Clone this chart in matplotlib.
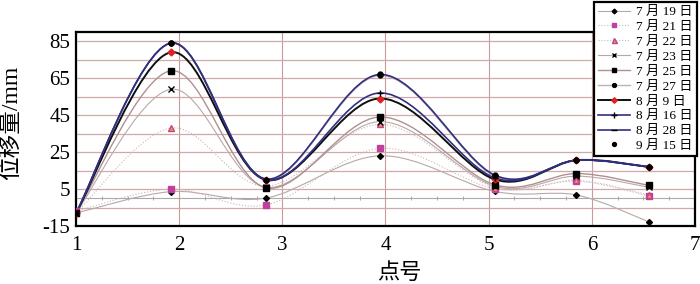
import numpy as np
import matplotlib
matplotlib.use('Agg')
import matplotlib.pyplot as plt
from matplotlib.path import Path
from matplotlib.patches import PathPatch
from matplotlib.lines import Line2D

plt.rcParams['font.family'] = ['Liberation Serif', 'Noto Sans CJK SC']
plt.rcParams['axes.unicode_minus'] = False

# 点号 (measured positions)
x = [1, 1.92, 2.84, 3.95, 5.06, 5.85, 6.55]

labels = ['7 月 19 日', '7 月 21 日', '7 月 22 日', '7 月 23 日', '7 月 25 日',
          '7 月 27 日', '8 月 9 日', '8 月 16 日', '8 月 28 日', '9 月 15 日']

d0719 = [-8, 3.6, 0.1, 23, 3.7, 1.8, -12.7]
d0721 = [-7, 5, -3.6, 27, 5.2, 9.3, 1.3]
d0722 = [-8, 38, 6.5, 40, 5.8, 9.8, 1.8]
d0723 = [-8, 59, 6, 41.5, 6.5, 12, 6]
d0725 = [-8, 69, 5.7, 44, 7.3, 13.4, 7]
d0727 = [-8, 84, 10, 66.5, 12, 20.6, 17]
d0809 = [-8, 79, 10, 54, 10.2, 20.6, 17]
d0816 = [-8, 84, 10, 57, 11, 20.6, 17]
d0828 = [-8, 84, 10.5, 67, 12.5, 20.6, 17]
d0915 = [-8, 84, 10, 67, 12.5, 20.6, 17]

series = [d0719, d0721, d0722, d0723, d0725, d0727, d0809, d0816, d0828, d0915]

# style: line colour, width, linestyle, marker, marker face, marker edge, size
styles = [
    ('#b8a8a8', 0.8, '-', 'D', 'black', 'black', 3),
    ('#c8b8b8', 0.8, ':', 's', '#c0409a', '#c0409a', 4),
    ('#c8b8b8', 0.8, ':', '^', '#f0a020', '#c0409a', 4.5),
    ('#b8a8a8', 0.8, '-', 'x', 'black', 'black', 4),
    ('#b09090', 1.0, '-', 's', 'black', 'black', 4),
    ('#c0b0b0', 1.0, '-', 'o', 'black', 'black', 3.5),
    ('#101010', 1.4, '-', 'D', '#e02020', '#e02020', 3.5),
    ('#303080', 1.2, '-', '+', 'black', 'black', 5),
    ('#303080', 1.2, '-', '_', 'black', 'black', 5),
    ('none', 0, '-', 'o', 'black', 'black', 3.5),
]


def smooth_path(xs, ys):
    p = np.column_stack([xs, ys]).astype(float)
    n = len(p)
    verts = [p[0]]
    codes = [Path.MOVETO]
    for i in range(n - 1):
        pm = p[i - 1] if i > 0 else p[i]
        pn = p[i + 2] if i + 2 < n else p[i + 1]
        c1 = p[i] + (p[i + 1] - pm) / 6
        c2 = p[i + 1] - (pn - p[i]) / 6
        verts += [c1, c2, p[i + 1]]
        codes += [Path.CURVE4] * 3
    return Path(verts, codes)


fig = plt.figure(figsize=(7, 2.84), dpi=100)
ax = fig.add_axes([76 / 700, 58 / 284, 619 / 700, 194 / 284])

ymin, ymax = -15, 90
ax.set_xlim(1, 7)
ax.set_ylim(ymin, ymax)

handles = []
for vals, lab, st in zip(series, labels, styles):
    col, lw, ls, mk, mfc, mec, ms = st
    if lw > 0:
        ax.add_patch(PathPatch(smooth_path(x, vals), fill=False, edgecolor=col,
                               lw=lw, linestyle=ls, zorder=3))
    ax.plot(x, vals, linestyle='none', marker=mk, markerfacecolor=mfc,
            markeredgecolor=mec, markersize=ms, zorder=4)
    handles.append(Line2D([], [], color=col, lw=max(lw, 0.8) if lw > 0 else 0,
                          linestyle=ls if lw > 0 else 'none', marker=mk,
                          markerfacecolor=mfc, markeredgecolor=mec,
                          markersize=ms * 0.8))

ax.set_xticks(range(1, 8))
ax.set_yticks(range(-15, 86, 20))
ax.set_yticks(range(-5, 86, 20), minor=True)
ax.grid(True, axis='y', which='both', color='#d0aaaa', lw=0.9)
ax.grid(True, axis='x', which='major', color='#c89a9a', lw=0.8)
ax.tick_params(axis='both', which='both', length=0, labelsize=15)
ax.tick_params(axis='y', pad=4)
ax.tick_params(axis='x', pad=7)
for s in ax.spines.values():
    s.set_linewidth(1.6)
    s.set_color('black')

# zero line with small ticks
sec = ax.secondary_xaxis((0 - ymin) / (ymax - ymin))
sec.set_xticks(np.arange(1.25, 7, 0.25))
sec.set_xticklabels([])
sec.tick_params(length=2.5, width=0.6, color='#999999', direction='inout')
sec.spines['bottom'].set_color('#aaaaaa')
sec.spines['bottom'].set_linewidth(0.8)

ax.set_ylabel('位移量/mm', fontsize=17)
ax.yaxis.set_label_coords(-0.087, 0.53)
ax.set_xlabel('点号', fontsize=16)
ax.xaxis.set_label_coords(0.523, -0.19)

leg = ax.legend(handles, labels, loc='upper right',
                bbox_to_anchor=(697 / 700, 1 - 2 / 284),
                bbox_transform=fig.transFigure, fontsize=9.5,
                labelspacing=0.2, handlelength=2.4, handletextpad=0.5,
                borderpad=0.3, borderaxespad=0, fancybox=False,
                framealpha=1, edgecolor='black')
leg.get_frame().set_linewidth(1.6)
leg.set_zorder(10)

fig.savefig('out.png', dpi=100)
